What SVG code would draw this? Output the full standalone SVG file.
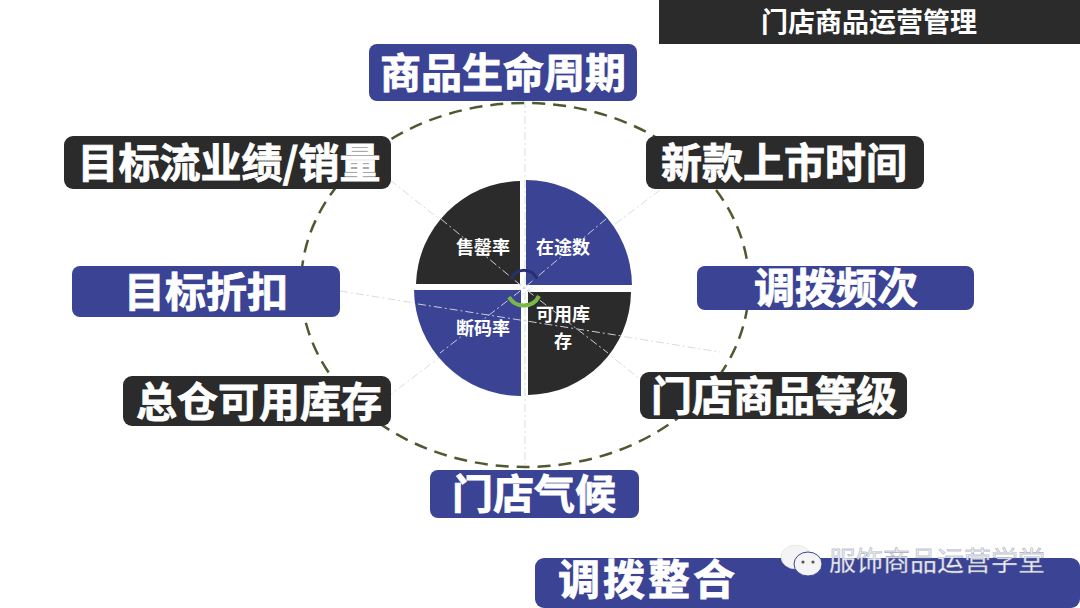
<svg xmlns="http://www.w3.org/2000/svg" width="1080" height="608" viewBox="0 0 1080 608">
<style>
text{font-family:"Noto Sans CJK SC","Noto Sans",sans-serif;fill:#fff;font-weight:700;text-anchor:middle}
.big{font-size:41px;stroke:#fff;stroke-width:.8px}
.small{font-size:18px}
.blue{fill:#3b4395}.dark{fill:#2b2b2b}
.spoke{stroke:#d4e0dc;stroke-width:1;stroke-dasharray:8 3 2 3;fill:none}
.inner{stroke:#c9cdd8;stroke-width:1;stroke-dasharray:8 3 2 3;fill:none}
</style>
<rect width="1080" height="608" fill="#fff"/>
<g id="connectors">
<ellipse cx="525" cy="285" rx="224" ry="182" fill="none" stroke="#4d5a30" stroke-width="2.5" stroke-dasharray="13 8"/>
<path class="spoke" d="M525 100V470M390 180L660 395M660 190L390 395M340 291L720 352"/>
</g>
<g id="pie">
<path class="dark" d="M520 181V284H416A106 106 0 0 1 520 181Z"/>
<path class="blue" d="M526 180V285H632A106 106 0 0 0 526 180Z"/>
<path class="blue" d="M521 290V396A107 107 0 0 1 414 290Z"/>
<path class="dark" d="M528 292V395A104 104 0 0 0 631 292Z"/>
<path class="inner" d="M441 219L524 288L608 353M606 219L524 288L440 353M418 304L622 336"/>
<path d="M511 279A14 14 0 0 1 537 279" fill="none" stroke="#27306e" stroke-width="3"/>
<path d="M509 297A17 17 0 0 0 539 296" fill="none" stroke="#7ab648" stroke-width="4"/>
</g>
<g id="n-title"><rect x="659" y="0" width="421" height="44" fill="#2b2b2b"/><text x="869" y="32" font-size="27">门店商品运营管理</text></g>
<g id="n-lifecycle"><rect class="blue" x="369" y="44" width="268" height="57" rx="8"/><text class="big" x="503" y="88">商品生命周期</text></g>
<g id="n-target"><rect class="dark" x="64" y="136" width="327" height="53" rx="9"/><text class="big" x="229" y="178">目标流业绩/销量</text></g>
<g id="n-newtime"><rect class="dark" x="646" y="136" width="278" height="53" rx="9"/><text class="big" x="784" y="178">新款上市时间</text></g>
<g id="n-discount"><rect class="blue" x="72" y="266" width="268" height="51" rx="8"/><text class="big" x="206" y="307">目标折扣</text></g>
<g id="n-frequency"><rect class="blue" x="697" y="266" width="277" height="44" rx="8"/><text class="big" x="836" y="303">调拨频次</text></g>
<g id="n-warehouse"><rect class="dark" x="123" y="376" width="268" height="50" rx="9"/><text class="big" x="259" y="417">总仓可用库存</text></g>
<g id="n-grade"><rect class="dark" x="640" y="372" width="267" height="47" rx="9"/><text class="big" x="774" y="411">门店商品等级</text></g>
<g id="n-climate"><rect class="blue" x="430" y="470" width="209" height="48" rx="8"/><text class="big" x="534" y="509">门店气候</text></g>
<g id="n-merge"><rect class="blue" x="535" y="558" width="545" height="50" rx="9"/><text x="648" y="595" font-size="42" letter-spacing="3" stroke="#fff" stroke-width=".8">调拨整合</text></g>
<g id="n-sell"><text class="small" x="483" y="254">售罄率</text></g>
<g id="n-transit"><text class="small" x="563" y="254">在途数</text></g>
<g id="n-break"><text class="small" x="483" y="335">断码率</text></g>
<g id="n-stock"><text class="small" x="563" y="321">可用库</text><text class="small" x="563" y="348">存</text></g>
<g id="watermark">
<ellipse cx="796" cy="557" rx="15" ry="12" fill="#f4f4f4" stroke="#ddd" stroke-width=".6"/>
<ellipse cx="808" cy="564" rx="14" ry="12" fill="#f4f4f4" stroke="#3b4395" stroke-width="1"/>
<circle cx="803" cy="562" r="1.6" fill="#555"/><circle cx="813" cy="562" r="1.6" fill="#555"/>
<text x="937" y="571" font-size="27" stroke="#8a8fa8" stroke-width=".4" style="fill:#eef0f4;font-weight:400">服饰商品运营学堂</text>
</g>
</svg>
